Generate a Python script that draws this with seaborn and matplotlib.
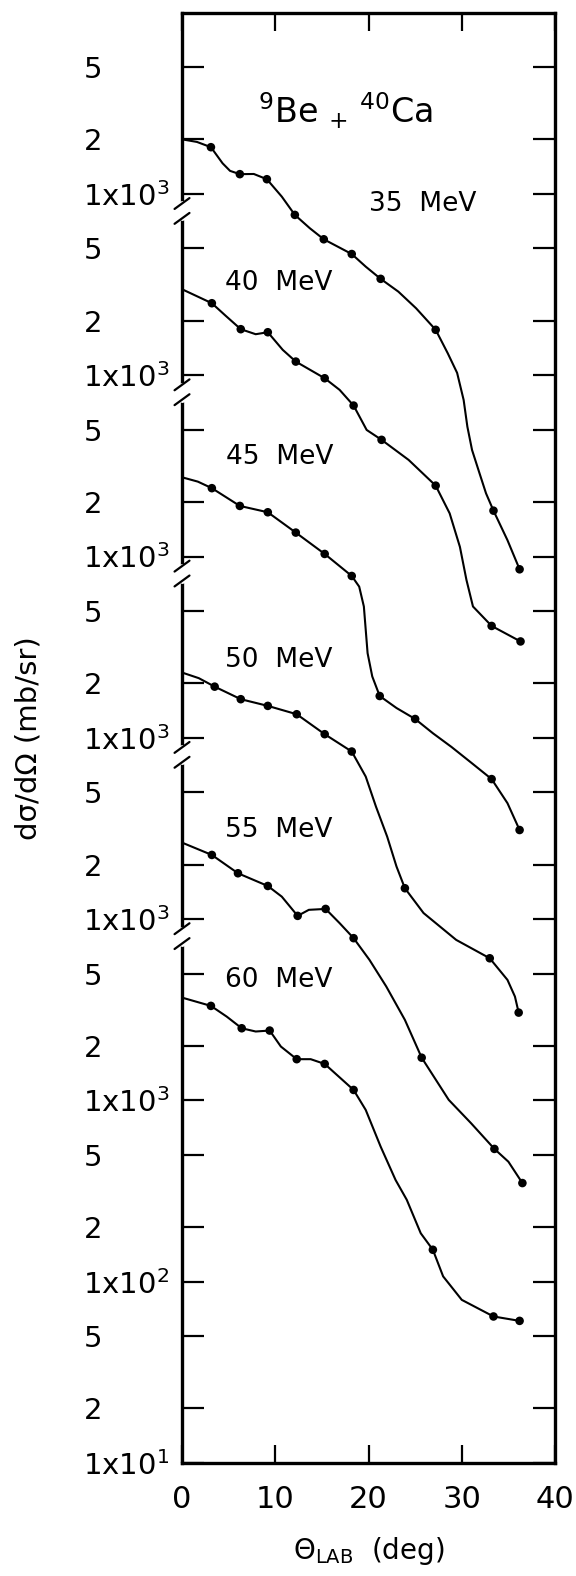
import pandas as pd
import matplotlib
matplotlib.use("Agg")
import matplotlib.pyplot as plt
import matplotlib.transforms as mtransforms
from matplotlib.ticker import NullLocator
import seaborn as sns

# 9Be + 40Ca elastic scattering, d(sigma)/d(Omega) in mb/sr vs theta_lab (deg)
energies = [35, 40, 45, 50, 55, 60]

# measured points (dots)
th_35 = [3.1, 6.2, 9.1, 12.1, 15.2, 18.2, 21.3, 27.2, 33.4, 36.2]
xs_35 = [1810, 1285, 1205, 766, 562, 466, 340, 178, 17.9, 8.5]
th_40 = [3.2, 6.3, 9.2, 12.2, 15.3, 18.4, 21.4, 27.2, 33.2, 36.3]
xs_40 = [2495, 1794, 1726, 1189, 962, 680, 440, 246, 41.4, 34.0]
th_45 = [3.2, 6.2, 9.2, 12.2, 15.3, 18.2, 21.2, 25.0, 33.2, 36.2]
xs_45 = [2382, 1901, 1754, 1355, 1033, 781, 170, 127, 59.2, 31.0]
th_50 = [3.5, 6.3, 9.2, 12.3, 15.3, 18.2, 23.9, 33.0, 36.1]
xs_50 = [1915, 1633, 1500, 1349, 1047, 840, 148, 60.8, 30.5]
th_55 = [3.2, 6.0, 9.2, 12.4, 15.4, 18.4, 25.7, 33.5, 36.5]
xs_55 = [2259, 1790, 1523, 1042, 1138, 785, 172, 54, 35]
th_60 = [3.1, 6.4, 9.4, 12.3, 15.3, 18.4, 26.9, 33.4, 36.2]
xs_60 = [3321, 2500, 2428, 1688, 1589, 1142, 150, 64.3, 60.8]

# extra points (between the dots)
cth_35 = [0, 1.6, 4.35, 5.15, 7.7, 10.7, 13.7, 19.7, 23.2, 25.1, 28.5, 29.5, 30.2, 30.6, 31.1, 31.9, 32.6, 34.9]
cxs_35 = [2000, 1935, 1475, 1340, 1288, 966, 647, 397, 289, 234, 132, 103, 73, 52, 38.7, 28.8, 22.3, 12.3]
cth_40 = [0, 4.7, 7.9, 10.8, 16.9, 19.8, 24.3, 28.7, 29.8, 30.5, 31.2]
cxs_40 = [2980, 2123, 1683, 1380, 830, 499, 341, 173, 113, 74.3, 53]
cth_45 = [0, 1.7, 19.0, 19.5, 19.9, 20.4, 23.0, 26.9, 28.9, 31.0, 34.9]
cxs_45 = [2735, 2588, 682, 530, 293, 218, 146, 106, 89, 73, 43.6]
cth_50 = [0, 1.8, 19.7, 20.8, 22.0, 23.0, 25.9, 29.4, 34.9, 35.7]
cxs_50 = [2291, 2133, 611, 417, 285, 195, 108, 76.8, 46.2, 37.4]
cth_55 = [0, 10.7, 13.6, 16.9, 20.1, 21.9, 23.9, 28.6, 31.0, 35.0]
cxs_55 = [2642, 1330, 1125, 950, 596, 425, 278, 100.7, 74.8, 45.9]
cth_60 = [0, 4.8, 7.9, 10.6, 13.8, 19.7, 21.3, 22.9, 24.1, 25.6, 28.0, 30.0]
cxs_60 = [3690, 2897, 2399, 1982, 1688, 886, 556, 364, 283, 185, 107, 79.4]

ytick_vals = [1e1, 2e1, 5e1, 1e2, 2e2, 5e2, 1e3, 2e3, 5e3, 1e4, 2e4, 5e4,
              1e5, 2e5, 5e5, 1e6, 2e6, 5e6, 1e7, 2e7, 5e7, 1e8, 2e8, 5e8]
ytick_labels = ["1x10$^1$", "2", "5", "1x10$^2$", "2", "5",
                "1x10$^3$", "2", "5", "1x10$^3$", "2", "5",
                "1x10$^3$", "2", "5", "1x10$^3$", "2", "5",
                "1x10$^3$", "2", "5", "1x10$^3$", "2", "5"]
xtick_vals = [0, 10, 20, 30, 40]

dots = {35: (th_35, xs_35), 40: (th_40, xs_40), 45: (th_45, xs_45),
        50: (th_50, xs_50), 55: (th_55, xs_55), 60: (th_60, xs_60)}
extra = {35: (cth_35, cxs_35), 40: (cth_40, cxs_40), 45: (cth_45, cxs_45),
         50: (cth_50, cxs_50), 55: (cth_55, cxs_55), 60: (cth_60, cxs_60)}
# each curve is moved up by whole decades so they stack
shift = {35: 5, 40: 4, 45: 3, 50: 2, 55: 1, 60: 0}

pts = []
lines = []
for e in energies:
    f = 10 ** shift[e]
    for t, v in zip(*dots[e]):
        pts.append({"energy": e, "theta": t, "y": v * f})
        lines.append({"energy": e, "theta": t, "y": v * f})
    for t, v in zip(*extra[e]):
        lines.append({"energy": e, "theta": t, "y": v * f})
pts = pd.DataFrame(pts)
lines = pd.DataFrame(lines).sort_values(["energy", "theta"])

sns.set_theme(style="ticks")
plt.rcParams["font.family"] = ["DejaVu Sans"]
plt.rcParams["mathtext.fontset"] = "dejavusans"
plt.rcParams["axes.edgecolor"] = "black"
plt.rcParams["text.color"] = "black"
plt.rcParams["axes.labelcolor"] = "black"

fig = plt.figure(figsize=(5.76, 15.76), dpi=100)
ax = fig.add_axes([0.316, 0.0717, 0.6476, 0.9203])
ax.set_yscale("log")

sns.lineplot(data=lines, x="theta", y="y", units="energy", estimator=None,
             sort=False, color="black", linewidth=1.5, ax=ax, legend=False)
sns.scatterplot(data=pts, x="theta", y="y", color="black", s=38,
                edgecolor="none", ax=ax, legend=False, zorder=3)

ax.set_xlim(0, 40)
ax.set_ylim(1e1, 1e9)

ax.set_yticks(ytick_vals)
ax.set_yticklabels(ytick_labels, ha="left")
ax.yaxis.set_minor_locator(NullLocator())
ax.tick_params(axis="y", which="major", direction="in", length=16, width=1.6,
               pad=71, labelsize=21, left=True, right=True, colors="black")
ax.set_xticks(xtick_vals)
ax.set_xticklabels([str(v) for v in xtick_vals])
ax.tick_params(axis="x", direction="in", length=13, width=1.6, pad=16,
               labelsize=22, top=True, bottom=True, colors="black")
for s in ax.spines.values():
    s.set_linewidth(2.4)
    s.set_color("black")

ax.set_xlabel(r"$\Theta_{\mathrm{LAB}}$  (deg)", fontsize=20, labelpad=15)
ax.set_ylabel("dσ/dΩ (mb/sr)", fontsize=21)
ax.yaxis.set_label_coords(-0.375, 0.5)

# energy labels
lab_pos = {35: (20.0, 8.81e7), 40: (4.6, 3.23e7), 45: (4.7, 3.55e6),
           50: (4.65, 2.69e5), 55: (4.6, 3.10e4), 60: (4.6, 4.62e3)}
for e in energies:
    ax.text(lab_pos[e][0], lab_pos[e][1], f"{e}  MeV", fontsize=19,
            ha="left", va="center")
ax.text(17.5, 2.46e8, r"$^{9}$Be $_{+}$ $^{40}$Ca", fontsize=24,
        ha="center", va="baseline")

# axis break marks on the left spine, just below each 1x10^3 tick
trans = mtransforms.blended_transform_factory(ax.transAxes, ax.transData)
for d in [8, 7, 6, 5, 4]:
    c = d - 0.094
    ax.plot([0, 0], [10 ** (c - 0.036), 10 ** (c + 0.036)], color="white", lw=5,
            transform=trans, clip_on=False, zorder=5)
    for o in (-0.041, 0.041):
        ax.plot([-0.02, 0.02], [10 ** (c + o - 0.03), 10 ** (c + o + 0.03)],
                color="black", lw=1.6, transform=trans, clip_on=False, zorder=6)

fig.savefig("out.png", dpi=100)
